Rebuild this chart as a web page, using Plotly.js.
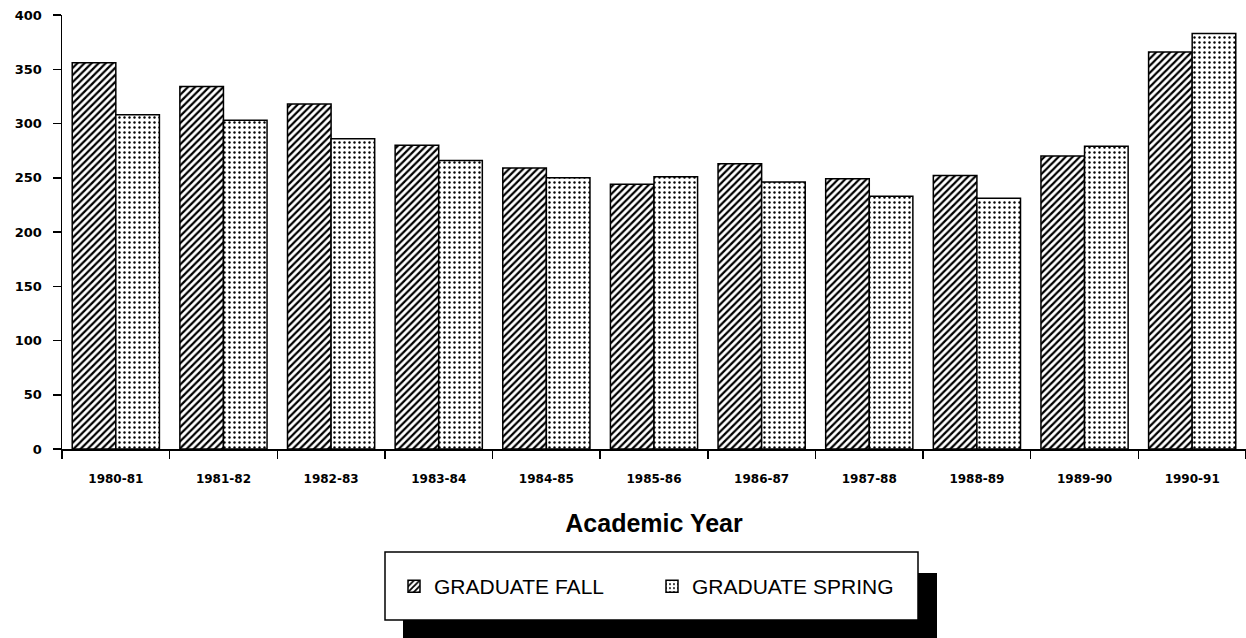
<!DOCTYPE html>
<html>
<head>
<meta charset="utf-8">
<script src="https://cdn.plot.ly/plotly-3.0.1.min.js"></script>
<style>html,body{margin:0;padding:0;background:#fff;}#chart{width:1246px;height:638px;}</style>
</head>
<body>
<div id="chart"></div>
<script>
const years = ["1980-81","1981-82","1982-83","1983-84","1984-85","1985-86","1986-87","1987-88","1988-89","1989-90","1990-91"];
const graduateFall = [356, 334, 318, 280, 259, 244, 263, 249, 252, 270, 366];
const graduateSpring = [308, 303, 286, 266, 250, 251, 246, 233, 231, 279, 383];
const yTicks = [0, 50, 100, 150, 200, 250, 300, 350, 400];

const L = 62, R = 0, T = 15, B = 189, W = 1246, H = 638;
const pw = W - L - R, ph = H - T - B;
const px = v => (v - L) / pw;
const py = v => (H - B - v) / ph;

const traces = [
  {
    type: 'bar', name: 'GRADUATE FALL', x: years, y: graduateFall,
    marker: {color: 'white', line: {color: 'black', width: 1.5},
      pattern: {shape: '/', fgcolor: 'black', bgcolor: 'white', size: 5, solidity: 0.45}}
  },
  {
    type: 'bar', name: 'GRADUATE SPRING', x: years, y: graduateSpring,
    marker: {color: 'white', line: {color: 'black', width: 1.5},
      pattern: {shape: '.', fgcolor: 'black', bgcolor: 'white', size: 5, solidity: 0.18}}
  }
];

const layout = {
  width: W, height: H,
  margin: {l: L, r: R, t: T, b: B},
  paper_bgcolor: 'white', plot_bgcolor: 'white',
  barmode: 'group', bargap: 0.19, bargroupgap: 0,
  font: {family: 'Liberation Sans, Arial, sans-serif', color: 'black'},
  xaxis: {
    showline: true, linecolor: 'black', linewidth: 1.5,
    ticks: 'outside', tickson: 'boundaries', ticklen: 8, tickcolor: 'black', tickwidth: 1.5,
    tickfont: {size: 12, weight: 'bold', family: 'DejaVu Sans, sans-serif'},
    ticklabelstandoff: 18,
    showgrid: false, zeroline: false,
    title: {text: 'Academic Year', font: {size: 25, weight: 'bold'}, standoff: 29}
  },
  yaxis: {
    range: [0, 400], tickvals: yTicks,
    showline: true, linecolor: 'black', linewidth: 1.5,
    ticks: 'outside', ticklen: 8, tickcolor: 'black', tickwidth: 1.5,
    tickfont: {size: 13, weight: 'bold', family: 'DejaVu Sans, sans-serif'},
    ticklabelstandoff: 8,
    showgrid: false, zeroline: false
  },
  showlegend: true,
  legend: {
    orientation: 'h', x: px(394), y: py(566), xanchor: 'left', yanchor: 'top',
    bgcolor: 'rgba(0,0,0,0)', borderwidth: 0,
    font: {size: 21, family: 'Liberation Sans, Arial, sans-serif'},
    entrywidth: 213, entrywidthmode: 'pixels', traceorder: 'normal'
  },
  shapes: [
    {type: 'rect', xref: 'paper', yref: 'paper', x0: px(403), x1: px(937), y0: py(638), y1: py(573),
     fillcolor: 'black', line: {width: 0}, layer: 'above'},
    {type: 'rect', xref: 'paper', yref: 'paper', x0: px(385), x1: px(918), y0: py(620), y1: py(552),
     fillcolor: 'white', line: {color: 'black', width: 1.5}, layer: 'above'}
  ]
};

Plotly.newPlot('chart', traces, layout, {displayModeBar: false, staticPlot: true});
</script>
</body>
</html>
